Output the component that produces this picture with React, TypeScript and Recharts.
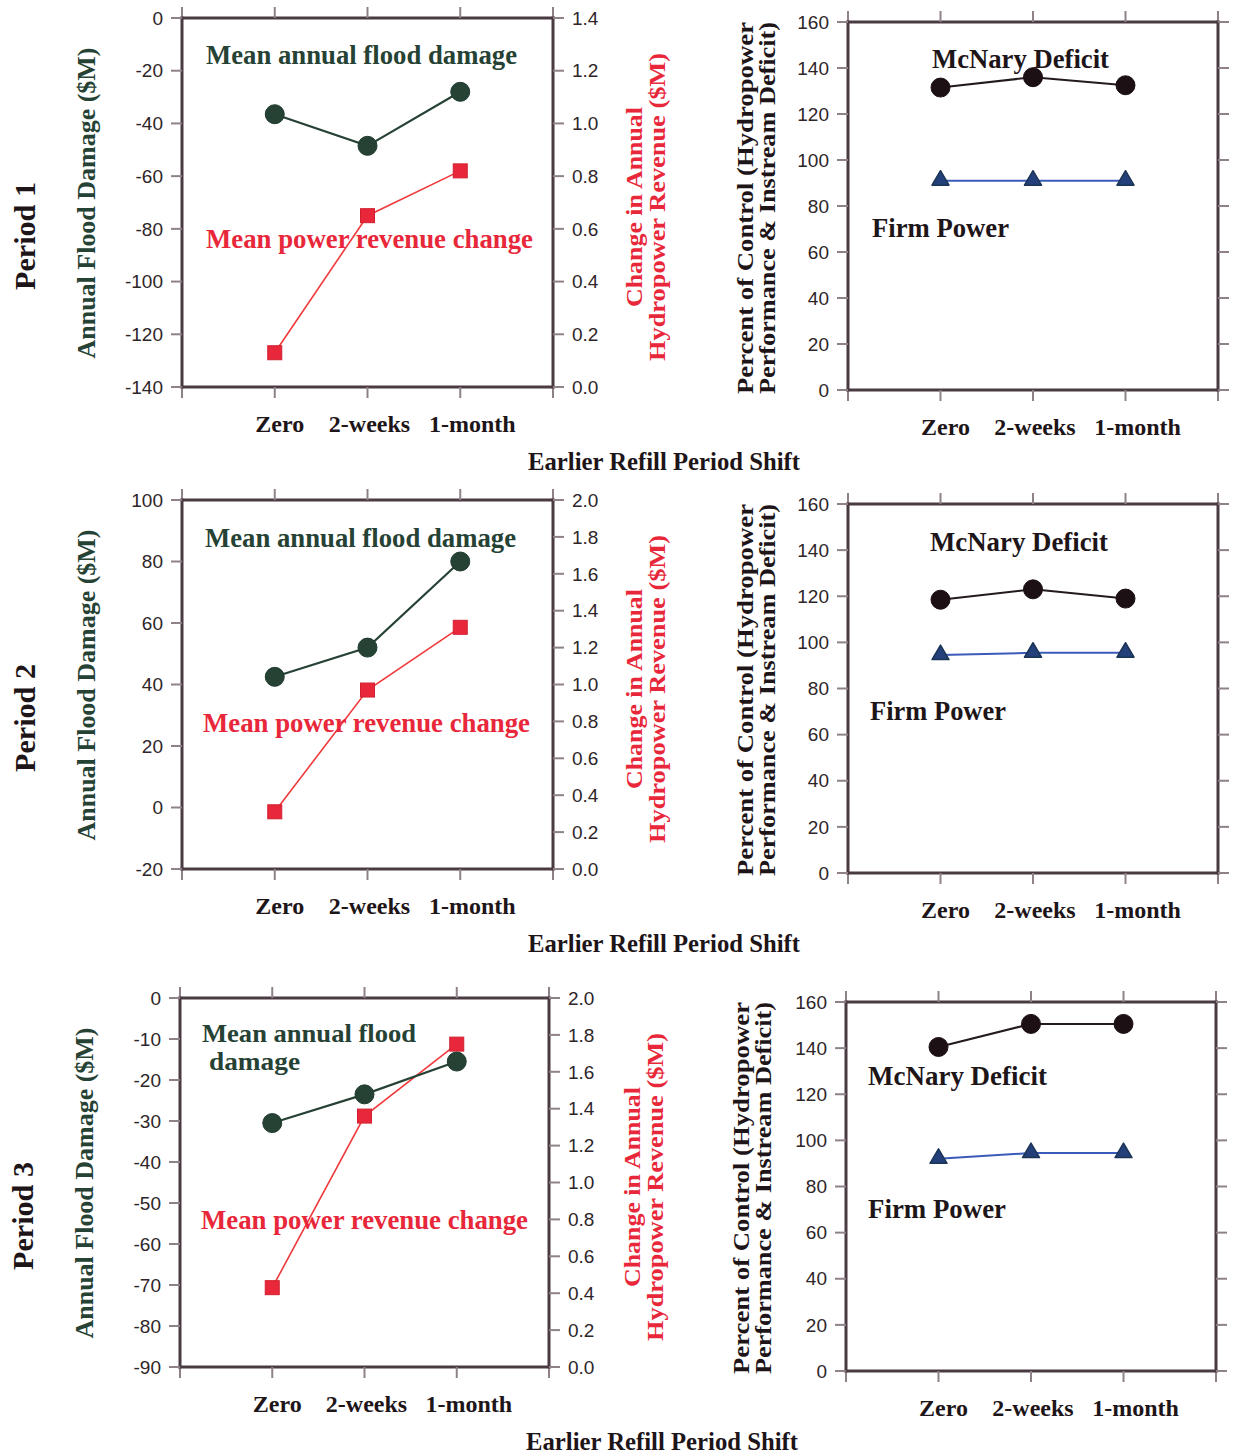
import React from 'react';
import { LineChart, Line, XAxis, YAxis } from 'recharts';

// Scenario categories along the x axis (earlier refill period shift)
const categories = ['Zero', '2-weeks', '1-month'];

// Period 1
const floodP1 = [-36.5, -48.5, -28];
const powerP1 = [0.13, 0.65, 0.82];
const mcnaryP1 = [131.5, 136, 132.5];
const firmP1 = [91, 91, 91];

// Period 2
const floodP2 = [42.5, 52, 80];
const powerP2 = [0.31, 0.97, 1.31];
const mcnaryP2 = [118.5, 123, 119];
const firmP2 = [94.5, 95.5, 95.5];

// Period 3
const floodP3 = [-30.5, -23.5, -15.5];
const powerP3 = [0.43, 1.36, 1.75];
const mcnaryP3 = [140.5, 150.5, 150.5];
const firmP3 = [92, 94.5, 94.5];

// Axis ticks
const positionTicks = [0, 1, 2, 3, 4];
const floodTicksP1 = [-140, -120, -100, -80, -60, -40, -20, 0];
const floodTicksP2 = [-20, 0, 20, 40, 60, 80, 100];
const floodTicksP3 = [-90, -80, -70, -60, -50, -40, -30, -20, -10, 0];
const powerTicksP1 = [0, 0.2, 0.4, 0.6, 0.8, 1.0, 1.2, 1.4];
const powerTicksP23 = [0, 0.2, 0.4, 0.6, 0.8, 1.0, 1.2, 1.4, 1.6, 1.8, 2.0];
const percentTicks = [0, 20, 40, 60, 80, 100, 120, 140, 160];

const SERIF = '"Liberation Serif", "Times New Roman", Times, serif';
const SANS = '"Liberation Sans", Arial, Helvetica, sans-serif';
const FRAME = '#4a3a42';
const TICK_COLOR = '#8e8288';
const TICK_LEN = 11;
const GREEN = '#264234';
const RED = '#e8283a';
const INK = '#1e1519';
const labelShift = [5, 2, 12];

const frameLine = { stroke: FRAME, strokeWidth: 3, strokeLinecap: 'square' as const };
const tickLine = { stroke: TICK_COLOR, strokeWidth: 2 };
const numTick = { fill: '#2e2529', fontSize: 19, fontFamily: SANS };

type Box = { x0: number; y0: number; x1: number; y1: number };

function CategoryTick(props: any) {
  const { x, y, payload } = props;
  const i = Math.round(payload.value) - 1;
  const label = categories[i];
  if (!label) return <g />;
  return (
    <text x={x + labelShift[i]} y={y + 32} textAnchor="middle" fontFamily={SERIF} fontWeight="bold" fontSize={24} fill={INK}>
      {label}
    </text>
  );
}

const NoTick = () => <g />;

function SquareDot(props: any) {
  const { cx, cy, index } = props;
  if (cx == null || cy == null) return <g key={`sq-${index}`} />;
  return <rect key={`sq-${index}`} x={cx - 7} y={cy - 7} width={14} height={14} fill={RED} stroke="#d21f30" strokeWidth={1} />;
}

function TriangleDot(props: any) {
  const { cx, cy, index } = props;
  if (cx == null || cy == null) return <g key={`tr-${index}`} />;
  return (
    <path
      key={`tr-${index}`}
      d={`M${cx},${cy - 10} L${cx + 8.5},${cy + 4.5} L${cx - 8.5},${cy + 4.5} Z`}
      fill="#23407a"
      stroke="#1c3456"
      strokeWidth={1.5}
      strokeLinejoin="round"
    />
  );
}

const PAD_L = 80;
const PAD_R = 80;
const PAD_T = 16;
const PAD_B = 64;

function FloodPowerChart({ box, flood, power, floodTicks, powerTicks }: {
  box: Box; flood: number[]; power: number[]; floodTicks: number[]; powerTicks: number[];
}) {
  const w = box.x1 - box.x0 + PAD_L + PAD_R;
  const h = box.y1 - box.y0 + PAD_T + PAD_B;
  const data = categories.map((name, i) => ({ pos: i + 1, name, flood: flood[i], power: power[i] }));
  return (
    <div style={{ position: 'absolute', left: box.x0 - PAD_L, top: box.y0 - PAD_T }}>
      <LineChart width={w} height={h} data={data} margin={{ top: 0, right: 0, bottom: 0, left: 0 }}>
        <XAxis xAxisId="top" orientation="top" dataKey="pos" type="number" domain={[0, 4]} ticks={positionTicks}
          allowDataOverflow interval={0} height={PAD_T} tickSize={TICK_LEN} tick={NoTick} axisLine={frameLine} tickLine={tickLine} />
        <XAxis xAxisId="bottom" orientation="bottom" dataKey="pos" type="number" domain={[0, 4]} ticks={positionTicks}
          allowDataOverflow interval={0} height={PAD_B} tickSize={TICK_LEN} tick={CategoryTick} axisLine={frameLine} tickLine={tickLine} />
        <YAxis yAxisId="flood" orientation="left" width={PAD_L} type="number"
          domain={[floodTicks[0], floodTicks[floodTicks.length - 1]]} ticks={floodTicks} allowDataOverflow interval={0}
          tickSize={TICK_LEN} tickMargin={8} tick={numTick} tickFormatter={(v: number) => String(v)}
          axisLine={frameLine} tickLine={tickLine} />
        <YAxis yAxisId="power" orientation="right" width={PAD_R} type="number"
          domain={[powerTicks[0], powerTicks[powerTicks.length - 1]]} ticks={powerTicks} allowDataOverflow interval={0}
          tickSize={TICK_LEN} tickMargin={8} tick={numTick} tickFormatter={(v: number) => v.toFixed(1)}
          axisLine={frameLine} tickLine={tickLine} />
        <Line xAxisId="bottom" yAxisId="power" type="linear" dataKey="power" stroke="#f03a3c" strokeWidth={1.6}
          dot={SquareDot} activeDot={false} isAnimationActive={false} />
        <Line xAxisId="top" yAxisId="flood" type="linear" dataKey="flood" stroke={GREEN} strokeWidth={2.2}
          dot={{ r: 9.5, fill: GREEN, stroke: '#1f3a2d', strokeWidth: 1 }} activeDot={false} isAnimationActive={false} />
      </LineChart>
    </div>
  );
}

function PercentChart({ box, mcnary, firm }: { box: Box; mcnary: number[]; firm: number[] }) {
  const w = box.x1 - box.x0 + PAD_L + PAD_R;
  const h = box.y1 - box.y0 + PAD_T + PAD_B;
  const data = categories.map((name, i) => ({ pos: i + 1, name, mcnary: mcnary[i], firm: firm[i] }));
  return (
    <div style={{ position: 'absolute', left: box.x0 - PAD_L, top: box.y0 - PAD_T }}>
      <LineChart width={w} height={h} data={data} margin={{ top: 0, right: 0, bottom: 0, left: 0 }}>
        <XAxis xAxisId="top" orientation="top" dataKey="pos" type="number" domain={[0, 4]} ticks={positionTicks}
          allowDataOverflow interval={0} height={PAD_T} tickSize={TICK_LEN} tick={NoTick} axisLine={frameLine} tickLine={tickLine} />
        <XAxis xAxisId="bottom" orientation="bottom" dataKey="pos" type="number" domain={[0, 4]} ticks={positionTicks}
          allowDataOverflow interval={0} height={PAD_B} tickSize={TICK_LEN} tick={CategoryTick} axisLine={frameLine} tickLine={tickLine} />
        <YAxis yAxisId="left" orientation="left" width={PAD_L} type="number" domain={[0, 160]} ticks={percentTicks}
          allowDataOverflow interval={0} tickSize={TICK_LEN} tickMargin={8} tick={numTick}
          axisLine={frameLine} tickLine={tickLine} />
        <YAxis yAxisId="right" orientation="right" width={PAD_R} type="number" domain={[0, 160]} ticks={percentTicks}
          allowDataOverflow interval={0} tickSize={TICK_LEN} tick={NoTick} axisLine={frameLine} tickLine={tickLine} />
        <Line xAxisId="bottom" yAxisId="right" type="linear" dataKey="firm" stroke="#3a5cb8" strokeWidth={2}
          dot={TriangleDot} activeDot={false} isAnimationActive={false} />
        <Line xAxisId="top" yAxisId="left" type="linear" dataKey="mcnary" stroke="#231a1e" strokeWidth={2}
          dot={{ r: 9.5, fill: '#1c1014', stroke: '#1c1014', strokeWidth: 1 }} activeDot={false} isAnimationActive={false} />
      </LineChart>
    </div>
  );
}

function Rot({ x, y, text, size, fill, len, weight = 'normal' }: {
  x: number; y: number; text: string; size: number; fill: string; len: number; weight?: string;
}) {
  return (
    <text transform={`translate(${x} ${y}) rotate(-90)`} textAnchor="middle" dominantBaseline="central"
      fontFamily={SERIF} fontSize={size} fontWeight={weight} fill={fill} textLength={len} lengthAdjust="spacingAndGlyphs">
      {text}
    </text>
  );
}

function Note({ x, y, text, fill, len, size = 27 }: { x: number; y: number; text: string; fill: string; len: number; size?: number }) {
  return (
    <text x={x} y={y} fontFamily={SERIF} fontWeight="bold" fontSize={size} fill={fill} textLength={len} lengthAdjust="spacingAndGlyphs">
      {text}
    </text>
  );
}

function RowTitles({ dy, dx, period }: { dy: number; dx: number; period: string }) {
  return (
    <g>
      <Rot x={24 + dx} y={236 + dy} text={period} size={30} fill={INK} len={108} weight="bold" />
      <Rot x={86 + dx} y={203 + dy} text="Annual Flood Damage ($M)" size={25} fill={GREEN} len={311} weight="bold" />
      <Rot x={634 + dx} y={207 + dy} text="Change in Annual" size={24} fill={RED} len={200} weight="bold" />
      <Rot x={657 + dx} y={207 + dy} text="Hydropower Revenue ($M)" size={24} fill={RED} len={308} weight="bold" />
      <Rot x={745 + dx * 2} y={208 + dy} text="Percent of Control (Hydropower" size={24} fill={INK} len={372} weight="bold" />
      <Rot x={767 + dx * 2} y={208 + dy} text="Performance & Instream Deficit)" size={24} fill={INK} len={372} weight="bold" />
      <text x={664 + dx} y={470 + dy} textAnchor="middle" fontFamily={SERIF} fontWeight="bold" fontSize={25} fill={INK}
        textLength={272} lengthAdjust="spacingAndGlyphs">
        Earlier Refill Period Shift
      </text>
    </g>
  );
}

export default function App() {
  return (
    <div style={{ position: 'absolute', left: 0, top: 0, width: 1238, height: 1455, background: '#ffffff', overflow: 'hidden' }}>
      <FloodPowerChart box={{ x0: 182, y0: 18, x1: 553, y1: 387 }} flood={floodP1} power={powerP1} floodTicks={floodTicksP1} powerTicks={powerTicksP1} />
      <PercentChart box={{ x0: 848, y0: 22, x1: 1218, y1: 390 }} mcnary={mcnaryP1} firm={firmP1} />
      <FloodPowerChart box={{ x0: 182, y0: 500, x1: 553, y1: 869 }} flood={floodP2} power={powerP2} floodTicks={floodTicksP2} powerTicks={powerTicksP23} />
      <PercentChart box={{ x0: 848, y0: 504, x1: 1218, y1: 873 }} mcnary={mcnaryP2} firm={firmP2} />
      <FloodPowerChart box={{ x0: 180, y0: 998, x1: 549, y1: 1367 }} flood={floodP3} power={powerP3} floodTicks={floodTicksP3} powerTicks={powerTicksP23} />
      <PercentChart box={{ x0: 846, y0: 1002, x1: 1216, y1: 1371 }} mcnary={mcnaryP3} firm={firmP3} />

      <svg width={1238} height={1455} style={{ position: 'absolute', left: 0, top: 0, pointerEvents: 'none' }}>
        <RowTitles dy={0} dx={0} period="Period 1" />
        <RowTitles dy={482} dx={0} period="Period 2" />
        <RowTitles dy={980} dx={-2} period="Period 3" />

        <Note x={206} y={64} text="Mean annual flood damage" fill={GREEN} len={311} />
        <Note x={206} y={248} text="Mean power revenue change" fill={RED} len={327} />
        <Note x={932} y={68} text="McNary Deficit" fill={INK} len={177} />
        <Note x={872} y={237} text="Firm Power" fill={INK} len={137} />

        <Note x={205} y={547} text="Mean annual flood damage" fill={GREEN} len={311} />
        <Note x={203} y={732} text="Mean power revenue change" fill={RED} len={327} />
        <Note x={930} y={551} text="McNary Deficit" fill={INK} len={178} />
        <Note x={870} y={720} text="Firm Power" fill={INK} len={136} />

        <Note x={202} y={1042} text="Mean annual flood" fill={GREEN} len={214} size={25} />
        <Note x={209} y={1070} text="damage" fill={GREEN} len={91} size={25} />
        <Note x={201} y={1229} text="Mean power revenue change" fill={RED} len={327} />
        <Note x={868} y={1085} text="McNary Deficit" fill={INK} len={179} />
        <Note x={868} y={1218} text="Firm Power" fill={INK} len={138} />
      </svg>
    </div>
  );
}
